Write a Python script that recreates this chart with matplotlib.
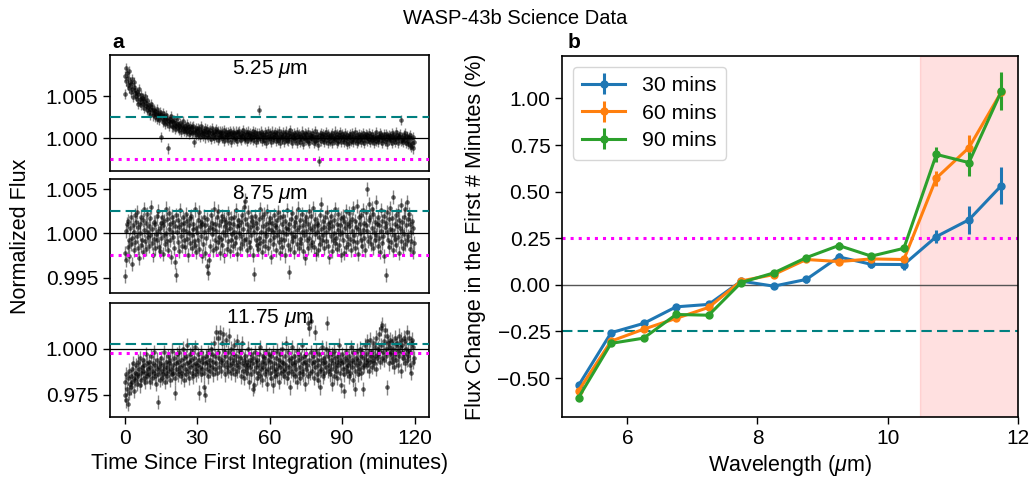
import numpy as np
import matplotlib
matplotlib.use("Agg")
import matplotlib.pyplot as plt
from matplotlib.ticker import FuncFormatter

plt.rcParams['font.family'] = ['Liberation Sans', 'DejaVu Sans']
plt.rcParams['mathtext.fontset'] = 'custom'
plt.rcParams['mathtext.it'] = 'Liberation Sans:italic'
plt.rcParams['mathtext.rm'] = 'Liberation Sans'

# ---------------- data: panel a (light curves) ----------------
time_step_min = 0.25  # minutes between samples

# 5.25 um, deviations from 1 in units of 1e-4
dev_525 = [
    52, 74, 83, 68, 77, 63, 71, 80, 59, 66,
    64, 55, 70, 58, 49, 61, 67, 53, 57, 50,
    55, 46, 52, 41, 58, 47, 43, 51, 39, 48,
    40, 47, 36, 44, 50, 38, 42, 33, 45, 37,
    39, 31, 35, 28, 41, 33, 37, 27, 34, 30,
    32, 25, 29, 35, 23, 30, 27, 22, 31, 26,
    28, 2, 24, 19, 30, 22, 26, 17, 23, 27,
    18, 24, -12, 20, 15, 23, 19, 26, 14, 21,
    19, 13, 22, 16, 11, 18, 14, 24, 12, 17,
    15, 10, 18, 13, 8, 16, 11, 20, 12, 9,
    14, 7, 12, 17, 9, 13, 5, 11, 15, 8,
    11, 6, 13, 8, 15, -4, 10, 7, 12, 4,
    9, 4, 12, 6, 11, 2, 8, 14, 5, 10,
    3, 9, 6, 12, 1, 8, 4, 11, 7, 2,
    8, 3, 10, -1, 6, 12, 4, 7, 0, 9,
    5, 11, 2, 7, -2, 9, 4, 1, 8, 3,
    6, 0, 8, 3, 10, -3, 5, 2, 7, 4,
    1, 7, -2, 5, 9, 3, -4, 6, 2, 8,
    4, -1, 6, 2, 8, 0, 5, -3, 7, 3,
    9, 1, 4, -2, 6, 3, 10, 0, 5, -1,
    2, 7, -3, 5, 1, 8, 4, -1, 6, 3,
    0, 5, 9, -2, 4, 1, 7, -4, 3, 6,
    2, -1, 6, 33, 3, 0, 8, -3, 5, 1,
    4, -2, 7, 1, -5, 5, 2, 9, -1, 3,
    6, 0, 3, -4, 8, 2, -1, 5, 1, 7,
    -3, 4, 1, 6, -2, 9, 0, 3, -5, 5,
    2, -1, 7, 3, -4, 5, 0, 8, 1, -2,
    4, -3, 6, 1, 10, -1, 3, -6, 5, 2,
    0, 6, -2, 4, 1, -5, 7, 3, -1, 5,
    3, -4, 2, 8, -1, 4, -7, 1, 6, 0,
    -2, 5, 1, -3, 7, 2, -6, 4, 0, 3,
    6, -1, 3, -5, 2, 9, -3, 1, 5, -2,
    -8, 2, -27, 4, 0, 6, -3, 3, -1, 5,
    1, -4, 4, 7, -2, 2, -6, 5, 0, 3,
    -3, 4, 1, -5, 6, 0, 3, -2, 8, -1,
    2, -6, 5, 1, -3, 4, 0, 7, -4, 2,
    5, -1, 3, -4, 1, 6, -2, 2, -7, 4,
    0, 3, -5, 5, 2, -3, 6, -1, 1, -4,
    3, -2, 7, 0, -6, 4, 1, -3, 5, 2,
    -1, 4, -4, 2, 6, -2, 3, -5, 1, 5,
    2, -3, 4, 0, -1, 6, -4, 3, 1, -2,
    5, -1, 2, -5, 3, 0, 7, -3, 2, -1,
    -4, 3, 1, 6, -2, 4, -6, 2, 0, 5,
    1, -3, 5, -1, 3, -7, 2, 4, -2, 0,
    3, -2, 6, -5, 1, 4, -1, 2, -4, 7,
    -1, 4, 0, -6, 3, 1, 5, -3, 22, -2,
    2, -4, 4, 0, -2, 6, -5, 1, 3, -7,
    -3, 1, -8, 4, -10, 0, -5, 2, -12, -4,
]
err_525 = 0.0006

# 8.75 um, deviations from 1 in units of 1e-4
dev_875 = [
    -22, -48, 3, -30, 10, -15, 14, -8, -26, 6,
    -12, 18, -5, -35, 9, -19, 2, 21, -10, 13,
    -3, 24, -16, 7, -28, 11, 0, -13, 19, -7,
    15, -21, 4, 27, -9, 12, -18, 1, 22, -4,
    8, -14, 17, -2, 30, -11, 5, -24, 13, -6,
    -17, 10, -1, 20, -8, 3, 25, -15, 6, -20,
    12, -5, 18, -23, 9, -2, 14, -12, 28, 0,
    -9, 16, -19, 5, 23, -7, 11, -27, 2, 19,
    -4, 13, -16, 8, -32, 21, -47, 1, 15, -10,
    7, -20, 26, -3, 10, -14, 4, 18, -8, 12,
    -15, 3, 22, -6, 14, -24, 9, 0, 17, -11,
    20, -2, -17, 11, 5, -9, 27, -13, 6, -21,
    1, 15, -7, 24, -18, 8, -3, 13, -26, 10,
    -12, 19, 2, -22, 9, -5, 16, -37, 4, -45,
    -30, 7, -14, 21, -1, 12, -19, 5, 28, -8,
    11, -16, 3, 18, -10, 25, -4, 9, -22, 14,
    -6, 20, -13, 1, 16, -25, 8, -2, 13, -18,
    4, 23, -9, 12, -20, 6, 17, -7, -1, 10,
    -14, 2, 19, -11, 26, -4, 8, -23, 15, 0,
    9, -17, 13, -3, 21, -12, 5, 30, -8, 16,
    37, -6, 11, -19, 3, 24, -10, 7, -15, 18,
    -2, 14, -24, 9, -46, 1, 20, -7, 12, -13,
    6, -18, 16, -5, 27, -11, 2, 19, -21, 8,
    -9, 22, 0, -14, 10, -3, 25, -16, 5, 13,
    17, -8, 4, -27, 12, 1, -12, 21, -4, 9,
    -19, 7, 15, -2, 24, -10, 3, -22, 18, -6,
    11, -15, 2, 20, -7, 14, -25, 6, -1, 26,
    -13, 5, -44, 10, -18, 16, 0, -9, 23, -4,
    8, -21, 13, -3, 19, -12, 4, 28, -16, 7,
    -6, 15, -11, 22, 1, -20, 9, -2, 14, -28,
    3, 18, -8, 11, -17, 25, -5, 6, -13, 20,
    -10, 4, 29, -15, 8, -1, 16, -23, 2, 12,
    -19, 9, -4, 21, -12, 5, 33, -7, 14, -2,
    7, -16, 18, -9, 1, 24, -14, 10, -27, 6,
    13, -3, 20, -20, 8, -8, 15, 0, -11, 27,
    -5, 11, -18, 4, 22, -13, 9, -1, 17, -24,
    2, 19, -7, 14, -22, 6, -15, 25, -3, 10,
    -12, 8, 23, -6, 13, -19, 3, 16, -9, 29,
    -2, 14, -16, 7, 31, -10, 5, -23, 18, 0,
    11, -8, 21, -14, 4, 26, -5, 12, -19, 9,
    24, 3, 50, -9, 15, 33, -4, 19, -12, 28,
    6, -17, 22, 1, 13, -7, 35, -2, 10, -14,
    18, -5, 9, -21, 26, 3, -11, 14, -3, 20,
    -26, 7, -47, 12, 2, 24, -8, 16, -15, 5,
    29, -10, 17, 4, -19, 41, -2, 11, -6, 21,
    -13, 8, 25, -4, 15, -22, 6, 32, -9, 13,
    3, -16, 19, -1, 27, -12, 9, 35, -7, 16,
    -3, 22, -18, 10, 1, -9, 14, -21, 6, -11,
]
err_875 = 0.0008

# 11.75 um, deviations from 1 in units of 1e-3
dev_1175 = [
    -25, -18, -28, -14, -22, -30, -16, -24, -12, -19,
    -15, -21, -11, -18, -8, -16, -23, -13, -17, -9,
    -14, -19, -7, -15, -11, -20, -5, -13, -17, -10,
    -12, -6, -16, -9, -18, -3, -13, -8, -15, -11,
    -7, -14, -10, -18, -4, -12, -16, -8, -13, -2,
    -15, -9, -19, -11, -6, -14, -29, -10, -17, -8,
    -12, -5, -16, -9, -14, -2, -11, -18, -7, -13,
    -10, -15, -4, -12, -8, -17, -6, -11, -1, -14,
    -9, -13, -5, -16, -24, -8, -11, -3, -14, -7,
    -12, -2, -10, -15, -6, -13, 0, -9, -17, -5,
    -11, -4, -14, -8, 2, -12, -7, -16, -3, -10,
    -6, -13, -1, -9, -15, -5, -11, 1, -8, -14,
    -9, -3, -12, -24, -6, -10, -2, -14, -7, -11,
    -5, -13, -21, -8, -25, -4, -11, -7, -15, -2,
    -9, -6, -12, 0, -10, -3, -14, -7, 3, -11,
    -4, 9, -8, -13, -2, 6, -10, -5, 9, -7,
    -12, 3, -6, 8, -9, -1, -14, -4, 5, -10,
    -7, -12, -2, 7, -9, -5, -13, 0, -8, -3,
    -11, -6, 2, -14, -4, -9, 4, -12, -7, -1,
    -10, -5, -15, -2, -8, 3, -12, -6, -16, -9,
    -4, -11, -7, -13, 0, -9, -18, -6, -10, -3,
    -14, -8, -22, -5, -12, -20, -2, -10, -7, -16,
    -6, -13, -3, -9, -15, 1, -11, -7, -17, -4,
    -10, -5, -14, -8, -1, -12, -19, -6, -11, -3,
    -13, -7, -16, -4, -10, -20, -2, -12, -8, -15,
    -5, -11, -1, -14, -9, -6, -18, -3, -10, -13,
    -7, 0, -12, -8, -15, -4, -11, 3, -9, -16,
    -2, -13, -6, -10, -21, -5, -12, -8, 1, -14,
    -9, -4, -15, -7, -11, -1, -18, -6, -13, -3,
    -10, -16, -5, -12, 2, -8, -14, -4, -19, -7,
    -11, -3, -9, 14, -15, -6, 11, -13, -2, 15,
    -8, -12, -4, -16, -7, 9, -10, -1, -14, -6,
    -9, -17, -3, -12, -21, -6, -11, 1, -8, -15,
    -5, -13, -7, 0, -10, 14, -4, -12, -2, -9,
    -14, -6, -11, -19, -3, -8, -15, -1, -10, -5,
    -12, -7, -16, -4, -9, 2, -13, -6, -20, -8,
    -3, -11, -7, -14, -23, -5, -10, -1, -12, -6,
    -9, -15, -4, -8, -13, 1, -10, -6, -17, -2,
    -7, -12, -22, -5, -9, -1, -14, -6, -11, 0,
    -8, -4, -13, -2, -10, -22, -5, -9, 2, -7,
    -3, -9, 4, -6, -12, -1, -7, 5, -4, -10,
    -2, -6, 3, -8, 1, -4, -11, 6, -5, 0,
    -3, 8, -1, -7, 11, 2, -5, 13, -2, 4,
    -6, 10, 0, -4, 7, -21, 3, -8, 1, -3,
    5, -2, -7, 4, -5, 0, -10, 6, -3, 2,
    -6, 3, -1, -9, 7, -4, 1, -12, 5, -2,
    2, -5, 6, -3, -8, 4, 0, -6, 9, -1,
    -4, 6, -2, -9, 3, -13, 5, -7, 1, -5,
]
err_1175 = 0.004

panel_labels = [r'5.25 $\mu$m', r'8.75 $\mu$m', r'11.75 $\mu$m']

# ---------------- data: panel b ----------------
wavelengths = [5.25, 5.75, 6.25, 6.75, 7.25, 7.75, 8.25, 8.75,
               9.25, 9.75, 10.25, 10.75, 11.25, 11.75]
change_30 = [-0.54, -0.257, -0.207, -0.118, -0.105, 0.020, -0.007, 0.029,
             0.150, 0.110, 0.109, 0.259, 0.349, 0.533]
err_30 = [0.02, 0.015, 0.015, 0.015, 0.015, 0.015, 0.015, 0.02,
          0.02, 0.02, 0.03, 0.036, 0.075, 0.10]
change_60 = [-0.568, -0.302, -0.238, -0.180, -0.121, 0.021, 0.055, 0.136,
             0.125, 0.139, 0.136, 0.573, 0.736, 1.036]
err_60 = [0.015, 0.012, 0.012, 0.012, 0.012, 0.012, 0.012, 0.015,
          0.02, 0.015, 0.02, 0.04, 0.07, 0.09]
change_90 = [-0.605, -0.314, -0.286, -0.159, -0.163, 0.0125, 0.064, 0.146,
             0.211, 0.154, 0.196, 0.700, 0.656, 1.040]
err_90 = [0.012, 0.01, 0.01, 0.01, 0.01, 0.01, 0.01, 0.015,
          0.02, 0.015, 0.02, 0.04, 0.073, 0.10]
series_labels = ['30 mins', '60 mins', '90 mins']

# ---------------- figure ----------------
W, H = 1031, 482
fig = plt.figure(figsize=(W / 100, H / 100), dpi=100)

TICK_FS = 15
LABEL_FS = 15.5


def fmt(decimals):
    return FuncFormatter(lambda v, p: f'{v:.{decimals}f}'.replace('-', '\u2212'))


def ax_px(left, top, right, bottom):
    return fig.add_axes([left / W, 1 - bottom / H, (right - left) / W, (bottom - top) / H])


left_axes = [ax_px(110, 55, 429, 170.7),
             ax_px(110, 179.3, 429, 293.3),
             ax_px(110, 303.3, 429, 416.7)]

devs = [dev_525, dev_875, dev_1175]
scales = [1e-4, 1e-4, 1e-3]
errs = [err_525, err_875, err_1175]
ylims = [(0.99617, 1.00985), (0.99323, 1.0061), (0.963, 1.0247)]
yticks = [[1.000, 1.005], [0.995, 1.000, 1.005], [0.975, 1.000]]
teal = '#008080'
magenta = '#ff00ff'

for i, ax in enumerate(left_axes):
    d = np.array(devs[i])
    t = np.arange(len(d)) * time_step_min
    flux = 1 + d * scales[i]
    ax.errorbar(t, flux, yerr=errs[i], fmt='o', ms=3.3, color='black',
                ecolor='#333333', elinewidth=1.0, alpha=0.6, zorder=2,
                markeredgewidth=0)
    ax.axhline(1.0, color='black', lw=0.9, zorder=3)
    ax.axhline(1.0025, color=teal, ls=(0, (5, 2.5)), lw=1.5, zorder=3)
    ax.axhline(0.9975, color=magenta, ls=':', lw=2.2, zorder=3)
    ax.set_xlim(-6, 126)
    ax.set_ylim(*ylims[i])
    ax.set_yticks(yticks[i])
    ax.yaxis.set_major_formatter(fmt(3))
    ax.tick_params(labelsize=TICK_FS, width=1.0, length=5)
    ax.text(0.5, 0.97, panel_labels[i], transform=ax.transAxes,
            ha='center', va='top', fontsize=15)
    for s in ax.spines.values():
        s.set_linewidth(1.2)
    if i < 2:
        ax.set_xticks([])
    else:
        ax.set_xticks([0, 30, 60, 90, 120])
        ax.set_xlabel('Time Since First Integration (minutes)', fontsize=LABEL_FS)

fig.text(21 / W, 1 - 236 / H, 'Normalized Flux', rotation=90,
         ha='center', va='center', fontsize=LABEL_FS)

# right panel
axb = ax_px(562.3, 56, 1017.7, 416.7)
colors = ['#1f77b4', '#ff7f0e', '#2ca02c']
for vals, err, c, lab in zip([change_30, change_60, change_90],
                             [err_30, err_60, err_90], colors, series_labels):
    axb.errorbar(wavelengths, vals, yerr=err, fmt='-o', color=c, ms=5,
                 lw=2.2, elinewidth=2.2, capsize=0, label=lab, zorder=3)
axb.axvspan(10.5, 12, color='red', alpha=0.12, lw=1, zorder=0)
axb.axhline(0, color='#555555', lw=1.0, zorder=1)
axb.axhline(0.25, color=magenta, ls=':', lw=2.2, zorder=2)
axb.axhline(-0.25, color=teal, ls=(0, (5, 2.5)), lw=1.5, zorder=2)
axb.set_xlim(5, 12)
axb.set_ylim(-0.7076, 1.228)
axb.set_xticks([6, 8, 10, 12])
axb.set_yticks([-0.5, -0.25, 0, 0.25, 0.5, 0.75, 1.0])
axb.yaxis.set_major_formatter(fmt(2))
axb.tick_params(labelsize=TICK_FS, width=1.0, length=5)
for s in axb.spines.values():
    s.set_linewidth(1.2)
axb.set_xlabel(r'Wavelength ($\mu$m)', fontsize=LABEL_FS)
axb.set_ylabel('Flux Change in the First # Minutes (%)', fontsize=LABEL_FS,
               labelpad=8)
axb.legend(loc='upper left', fontsize=15.3, borderpad=0.45, handlelength=2.0,
           labelspacing=0.4)

fig.text(112 / W, 1 - 42 / H, 'a', fontweight='bold', fontsize=15,
         ha='left', va='center')
fig.text(568 / W, 1 - 42 / H, 'b', fontweight='bold', fontsize=15,
         ha='left', va='center')
fig.suptitle('WASP-43b Science Data', fontsize=14.5, y=1 - 18 / H, va='center')

fig.savefig('out.png', dpi=100)
